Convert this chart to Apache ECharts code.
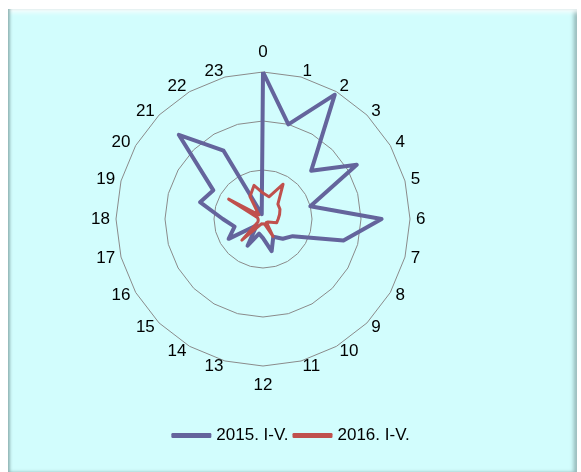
<!DOCTYPE html>
<html><head><meta charset="utf-8">
<script src="https://cdn.jsdelivr.net/npm/echarts@6/dist/echarts.min.js"></script>
<style>
html,body{margin:0;padding:0;background:#fff;width:581px;height:472px;overflow:hidden}
#panel{position:absolute;left:8px;top:9px;width:569px;height:463px;background:#d2fdfd;
box-shadow:inset 3px 0 3px -1px #8fb3b3, inset 0 6px 5px -3px #ffffff, inset -4px 0 4px -1px #8fb3b3;}
#chart{position:absolute;left:0;top:0;width:581px;height:472px}
</style></head>
<body>
<div id="panel"></div>
<div id="chart"></div>
<script>
// hours 0..23 (clockwise from top)
const hours = ['0','1','2','3','4','5','6','7','8','9','10','11','12','13','14','15','16','17','18','19','20','21','22','23'];
const s2015 = [300,200,293,139,221,100,242,170,70,57,42,68,39,31,63,18,81,60,82,133,117,243,161,10];
const s2016 = [53,47,82,43,40,35,31,29,12,10,41,10,10,10,16,61,12,10,10,12,81,12,53,71];
const seriesNames = ['2015. I-V.','2016. I-V.'];
const maxVal = 300;

// ECharts radar runs counter-clockwise; reorder to draw clockwise
const order = [0].concat(hours.map((_,i)=>i).slice(1).reverse());
const ind = order.map(i=>({name:hours[i],max:maxVal}));
const d1 = order.map(i=>s2015[i]);
const d2 = order.map(i=>s2016[i]);

const chart = echarts.init(document.getElementById('chart'));
chart.setOption({
  backgroundColor:'transparent',
  animation:false,
  legend:{
    data:seriesNames, top:422, left:'center',
    icon:'roundRect', itemWidth:40, itemHeight:5, itemGap:4,
    textStyle:{fontFamily:'Liberation Sans',fontSize:17,color:'#000'}
  },
  radar:{
    center:[263,219], radius:147, startAngle:90, splitNumber:3,
    shape:'polygon',
    indicator:ind,
    axisName:{
      color:'#000',fontFamily:'Liberation Sans',fontSize:17,
      formatter:function(n){
        if(n===hours[0]) return '{t|'+n+'}';
        if(n===hours[12]) return '{b|'+n+'}';
        return n;
      },
      rich:{
        t:{fontFamily:'Liberation Sans',fontSize:17,color:'#000',padding:[0,0,5,0]},
        b:{fontFamily:'Liberation Sans',fontSize:17,color:'#000',padding:[5,0,0,0]}
      }
    },
    nameGap:6,
    axisLine:{show:false}, axisTick:{show:false}, axisLabel:{show:false},
    splitArea:{show:false},
    splitLine:{lineStyle:{color:'#8a8a8a',width:1}}
  },
  series:[{
    type:'radar', symbol:'none',
    data:[
      {name:seriesNames[0], value:d1, lineStyle:{color:'#64649c',width:4}, itemStyle:{color:'#64649c'}},
      {name:seriesNames[1], value:d2, lineStyle:{color:'#c0504d',width:3}, itemStyle:{color:'#c0504d'}}
    ]
  }]
});
</script>
</body></html>
